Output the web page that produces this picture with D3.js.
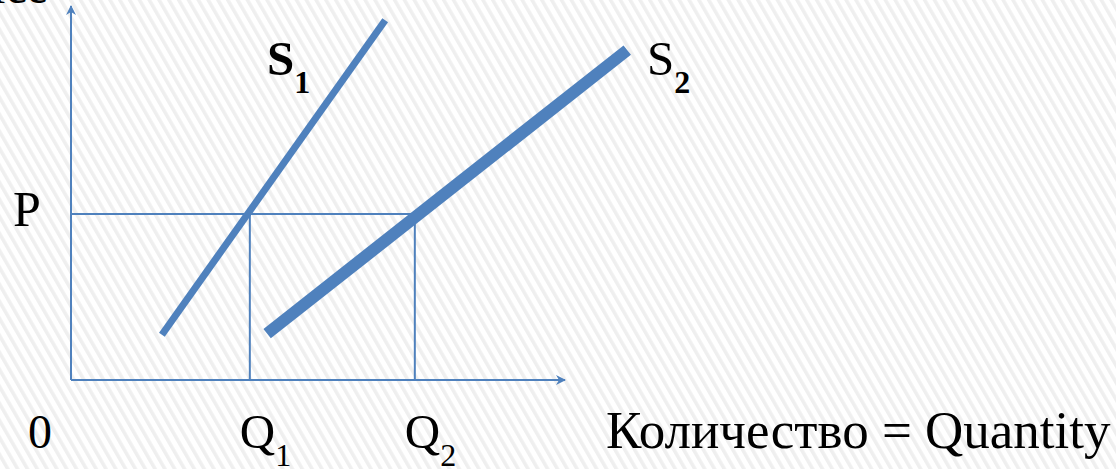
<!DOCTYPE html>
<html>
<head>
<meta charset="utf-8">
<script src="https://cdn.jsdelivr.net/npm/d3@7"></script>
<style>
  html, body { margin: 0; padding: 0; background: #fff; }
  svg { display: block; }
</style>
</head>
<body>
<div id="chart"></div>
<script>
// Data (axis units: quantity 0..100, price 0..100)
const supplyNames = ["S1", "S2"];
const s1Points = [[18.4, 12.1], [63.6, 96.2]];
const s2Points = [[39.7, 12.4], [112.6, 88.2]];
const priceLevel = 44.4;
const quantityLevels = [36.2, 69.6];
const quantityLabels = ["Q1", "Q2"];
const xTitle = "Количество = Quantity";
const yTitle = "Цена = Price";

const svgWidth = 1116;
const svgHeight = 469;
const blue = "#4f81bd";
const serif = "'Liberation Serif', 'DejaVu Serif', serif";

const svg = d3.select("#chart")
  .append("svg")
  .attr("width", svgWidth)
  .attr("height", svgHeight)
  .attr("font-family", serif);

// striped background
const defs = svg.append("defs");
const pat = defs.append("pattern")
  .attr("id", "stripes")
  .attr("patternUnits", "userSpaceOnUse")
  .attr("width", 8.5)
  .attr("height", 8.5)
  .attr("patternTransform", "rotate(-30)");
pat.append("rect").attr("width", 8.5).attr("height", 8.5).attr("fill", "#ffffff");
pat.append("rect").attr("width", 3.5).attr("height", 8.5).attr("fill", "#efefef");

svg.append("rect")
  .attr("width", svgWidth)
  .attr("height", svgHeight)
  .attr("fill", "url(#stripes)");

// arrow markers
defs.append("marker")
  .attr("id", "arrow")
  .attr("viewBox", "0 0 10 10")
  .attr("refX", 9)
  .attr("refY", 5)
  .attr("markerWidth", 5)
  .attr("markerHeight", 5)
  .attr("markerUnits", "strokeWidth")
  .attr("orient", "auto")
  .append("path")
  .attr("d", "M0,0 L10,5 L0,10 L3,5 Z")
  .attr("fill", blue);

// scales
const x = d3.scaleLinear().domain([0, 100]).range([71, 565]);
const y = d3.scaleLinear().domain([0, 100]).range([380, 6]);

const line = d3.line().x(d => x(d[0])).y(d => y(d[1]));

// axes
svg.append("line")
  .attr("x1", x(0)).attr("y1", y(0))
  .attr("x2", x(0)).attr("y2", y(100))
  .attr("stroke", blue).attr("stroke-width", 2)
  .attr("marker-end", "url(#arrow)");
svg.append("line")
  .attr("x1", x(0)).attr("y1", y(0))
  .attr("x2", x(100)).attr("y2", y(0))
  .attr("stroke", blue).attr("stroke-width", 2)
  .attr("marker-end", "url(#arrow)");

// guide lines
svg.append("line")
  .attr("x1", x(0)).attr("y1", y(priceLevel))
  .attr("x2", x(quantityLevels[1])).attr("y2", y(priceLevel))
  .attr("stroke", blue).attr("stroke-width", 2);

svg.selectAll(".qline")
  .data(quantityLevels)
  .enter()
  .append("line")
  .attr("class", "qline")
  .attr("x1", d => x(d)).attr("y1", y(priceLevel))
  .attr("x2", d => x(d)).attr("y2", y(0))
  .attr("stroke", blue).attr("stroke-width", 2);

// supply curves
svg.append("path")
  .attr("d", line(s1Points))
  .attr("fill", "none").attr("stroke", blue).attr("stroke-width", 7);
svg.append("path")
  .attr("d", line(s2Points))
  .attr("fill", "none").attr("stroke", blue).attr("stroke-width", 12);

// labels
function subLabel(xPos, yPos, name, boldMain, boldSub) {
  const t = svg.append("text")
    .attr("x", xPos).attr("y", yPos)
    .attr("font-size", 49);
  t.append("tspan")
    .attr("font-weight", boldMain ? "bold" : "normal")
    .text(name[0]);
  t.append("tspan")
    .attr("dy", 18)
    .attr("font-size", 32)
    .attr("font-weight", boldSub ? "bold" : "normal")
    .text(name.slice(1));
}

subLabel(267, 75, supplyNames[0], true, true);
subLabel(647, 75, supplyNames[1], false, true);

svg.append("text")
  .attr("x", 13).attr("y", 226)
  .attr("font-size", 50)
  .text("P");

svg.append("text")
  .attr("x", 28).attr("y", 448)
  .attr("font-size", 48)
  .text("0");

quantityLabels.forEach((q, i) => {
  const t = svg.append("text")
    .attr("x", x(quantityLevels[i]) - 10).attr("y", 448)
    .attr("font-size", 49);
  t.append("tspan").text(q[0]);
  t.append("tspan").attr("dy", 18).attr("font-size", 32).text(q.slice(1));
});

svg.append("text")
  .attr("x", 606).attr("y", 448)
  .attr("font-size", 53)
  .text(xTitle);

svg.append("text")
  .attr("x", 48).attr("y", 3)
  .attr("text-anchor", "end")
  .attr("font-size", 48)
  .text(yTitle);
</script>
</body>
</html>
